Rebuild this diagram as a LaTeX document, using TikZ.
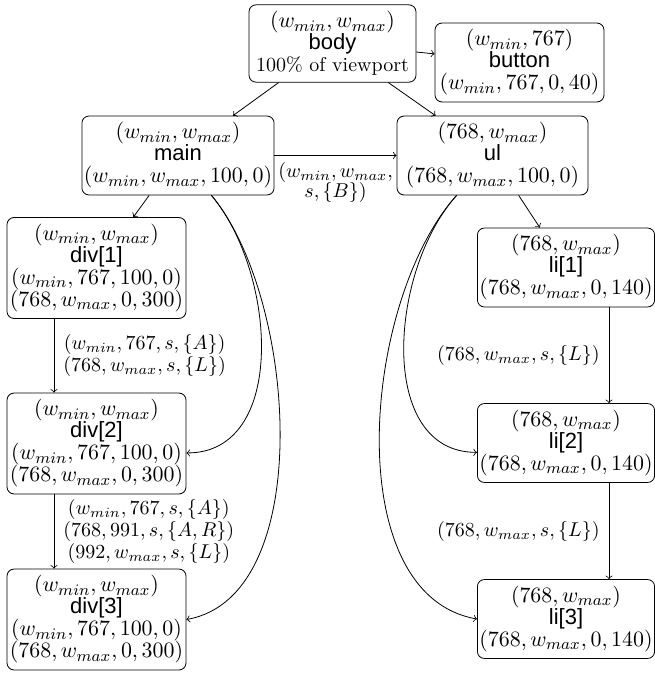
\documentclass[tikz,border=0pt]{standalone}
\usepackage{fontspec}
\newfontfamily\hv{Liberation Sans}
\newcommand\stackedlbl[2]{\vbox{\baselineskip=9.6pt\lineskiplimit=-20pt\halign{\hfil##\hfil\cr#1\cr#2\cr}}}
\begin{document}
\begin{tikzpicture}[x=0.5pt,y=0.5pt,
  box/.style={draw, rounded corners=3.5pt, align=center, inner xsep=1pt, inner ysep=3.25pt, font=\fontsize{11}{11}\selectfont},
  arr/.style={->},
  lbl/.style={font=\fontsize{9.6}{9.8}\selectfont, align=center, inner sep=2pt},
  tightlbl/.style={font=\fontsize{9.6}{9.8}\selectfont, inner sep=1.5pt}]
\useasboundingbox (0,0) rectangle (654,-675);
\node[box, minimum width=83.5pt] (body) at (332.5,-43.5) {$(w_{min}, w_{max})$\\{\hv body}\\{\fontsize{10}{11}\selectfont 100\% of viewport}};
\node[box, minimum width=84.5pt] (button) at (519.5,-62.5) {$(w_{min}, 767)$\\{\hv button}\\$(w_{min}, 767, 0, 40)$};
\node[box, minimum width=96pt] (main) at (178,-155.5) {$(w_{min}, w_{max})$\\{\hv main}\\$(w_{min}, w_{max}, 100, 0)$};
\node[box, minimum width=95.5pt] (ul) at (492.5,-155.5) {$(768, w_{max})$\\{\hv ul}\\$(768, w_{max}, 100, 0)$};
\node[box, minimum width=89.5pt] (div1) at (96.5,-268) {$(w_{min}, w_{max})$\\{\hv div[1]}\\$(w_{min}, 767, 100, 0)$\\$(768, w_{max}, 0, 300)$};
\node[box, minimum width=89.5pt] (div2) at (96.5,-443.5) {$(w_{min}, w_{max})$\\{\hv div[2]}\\$(w_{min}, 767, 100, 0)$\\$(768, w_{max}, 0, 300)$};
\node[box, minimum width=89.5pt] (div3) at (96.5,-619.5) {$(w_{min}, w_{max})$\\{\hv div[3]}\\$(w_{min}, 767, 100, 0)$\\$(768, w_{max}, 0, 300)$};
\node[box, minimum width=87pt] (li1) at (566,-267.5) {$(768, w_{max})$\\{\hv li[1]}\\$(768, w_{max}, 0, 140)$};
\node[box, minimum width=87pt] (li2) at (566,-443) {$(768, w_{max})$\\{\hv li[2]}\\$(768, w_{max}, 0, 140)$};
\node[box, minimum width=87pt] (li3) at (566,-619) {$(768, w_{max})$\\{\hv li[3]}\\$(768, w_{max}, 0, 140)$};
\coordinate (lx) at (54,0);
\coordinate (rx) at (609,0);
\draw[arr] (body) -- (main);
\draw[arr] (body) -- (ul);
\draw[arr] (body) -- (button);
\draw[arr] (main) -- node[tightlbl, below=2pt]{\stackedlbl{$(w_{min}, w_{max},$}{$s, \{B\})$}} (ul);
\draw[arr] (main) -- (div1);
\draw[arr] (ul) -- (li1);
\draw[arr] (div1.south -| lx) -- node[lbl, right=2.5pt]{$(w_{min}, 767, s, \{A\})$\\$(768, w_{max}, s, \{L\})$} (div2.north -| lx);
\draw[arr] (div2.south -| lx) -- node[lbl, right=2.5pt]{$(w_{min}, 767, s, \{A\})$\\$(768, 991, s, \{A, R\})$\\$(992, w_{max}, s, \{L\})$} (div3.north -| lx);
\draw[arr] (li1.south -| rx) -- node[lbl, left=2.5pt]{$(768, w_{max}, s, \{L\})$} (li2.north -| rx);
\draw[arr] (li2.south -| rx) -- node[lbl, left=2.5pt]{$(768, w_{max}, s, \{L\})$} (li3.north -| rx);
\draw[arr] (main) to[out=-50, in=0] (div2.-6);
\draw[arr] (main) to[out=-50, in=10, looseness=0.8] (div3.east);
\draw[arr] (ul) to[out=-132, in=180] (li2.186);
\draw[arr] (ul) to[out=-132, in=170, looseness=0.85] (li3.west);
\end{tikzpicture}
\end{document}
